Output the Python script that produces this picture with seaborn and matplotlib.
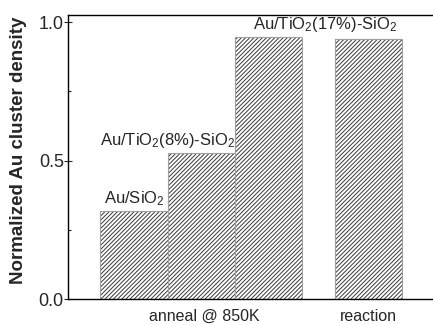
import numpy as np
import matplotlib
matplotlib.use("Agg")
import matplotlib.pyplot as plt
import seaborn as sns
from matplotlib.patches import Rectangle

# data
positions = [0, 1, 2, 3.5]
densities = [0.318, 0.528, 0.948, 0.939]
bar_labels = [r'Au/SiO$_2$', r'Au/TiO$_2$(8%)-SiO$_2$', r'Au/TiO$_2$(17%)-SiO$_2$']
label_x = [0, 0.5, 2.85]
group_ticks = [1.05, 3.5]
group_names = ['anneal @ 850K', 'reaction']

sns.set_style("ticks")
plt.rcParams['font.family'] = ['Liberation Sans', 'DejaVu Sans']
plt.rcParams['mathtext.fontset'] = 'custom'
plt.rcParams['mathtext.rm'] = 'Liberation Sans'
plt.rcParams['mathtext.default'] = 'regular'
plt.rcParams['hatch.linewidth'] = 0.7

fig = plt.figure(figsize=(4.33, 3.25), dpi=100)
ax = fig.add_axes([0.157, 0.08, 0.843, 0.874])

sns.barplot(x=positions, y=densities, native_scale=True, width=1.0,
            color='white', edgecolor='#383838', linewidth=0, hatch='////////',
            ax=ax, errorbar=None)

# light grey outline around each bar
for p in list(ax.patches):
    ax.add_patch(Rectangle((p.get_x(), p.get_y()), p.get_width(), p.get_height(),
                           fill=False, edgecolor='#a0a0a0', linewidth=0.8))

# labels above the first three bars
for i, txt in enumerate(bar_labels):
    ax.annotate(txt, (label_x[i], densities[i]), xytext=(0, 2),
                textcoords='offset points', ha='center', va='bottom', fontsize=12)

ax.set_xlim(-0.985, 4.46)
ax.set_ylim(0, 1.026)
ax.set_yticks([0.0, 0.5, 1.0])
ax.set_yticks([0.25, 0.75], minor=True)
ax.set_yticklabels(['0.0', '0.5', '1.0'])
ax.tick_params(axis='y', which='major', direction='inout', length=6, width=0.8,
               labelsize=13, pad=0)
ax.tick_params(axis='y', which='minor', direction='in', length=2.5, width=0.8)
ax.set_xticks(group_ticks)
ax.set_xticklabels(group_names)
ax.tick_params(axis='x', length=0, labelsize=11.5, pad=7)

ax.set_ylabel('Normalized Au cluster density', fontsize=13.5, fontweight='bold')
ax.yaxis.set_label_coords(-0.112, 0.525)
ax.set_xlabel('')

for s in ['left', 'bottom', 'top']:
    ax.spines[s].set_visible(True)
    ax.spines[s].set_color('black')
    ax.spines[s].set_linewidth(1.0)
ax.spines['right'].set_visible(False)

fig.savefig('out.png', dpi=100)
